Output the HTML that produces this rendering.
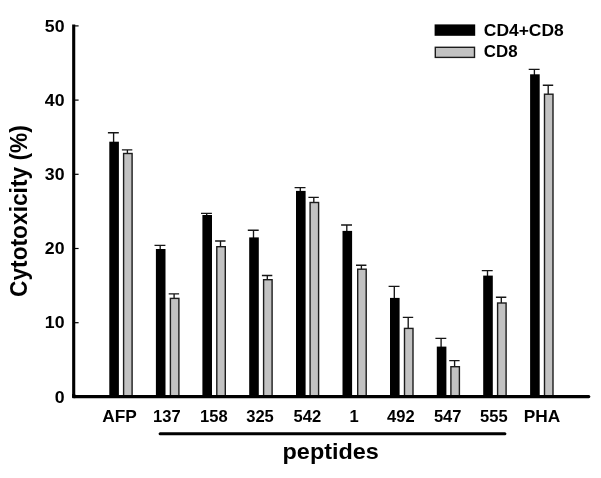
<!DOCTYPE html>
<html><head><meta charset="utf-8"><title>Cytotoxicity chart</title>
<style>
html,body{margin:0;padding:0;background:#fff;}
body{width:601px;height:478px;overflow:hidden;}
svg{display:block;}
text{font-family:"Liberation Sans",Arial,Helvetica,sans-serif;font-weight:bold;fill:#000;}
.t{font-size:16.8px;}
.b{font-size:22.3px;}
.y{font-size:22.75px;}
</style></head><body>
<svg width="601" height="478" viewBox="0 0 601 478">
<rect x="0" y="0" width="601" height="478" fill="#fff"/>

<path d="M107.9 132.7H118.8M113.6 132.7V142.7" stroke="#161616" stroke-width="1.35" fill="none"/>
<path d="M121.9 149.9H132.3M127.4 149.9V153.8" stroke="#161616" stroke-width="1.35" fill="none"/>
<path d="M154.5 245.3H165.4M160.2 245.3V250.0" stroke="#161616" stroke-width="1.35" fill="none"/>
<path d="M168.7 293.9H179.1M174.1 293.9V298.7" stroke="#161616" stroke-width="1.35" fill="none"/>
<path d="M201.0 213.4H211.9M206.7 213.4V216.0" stroke="#161616" stroke-width="1.35" fill="none"/>
<path d="M215.1 241.0H225.5M220.5 241.0V247.0" stroke="#161616" stroke-width="1.35" fill="none"/>
<path d="M247.8 230.2H258.7M253.5 230.2V238.4" stroke="#161616" stroke-width="1.35" fill="none"/>
<path d="M261.9 275.5H272.3M267.3 275.5V280.0" stroke="#161616" stroke-width="1.35" fill="none"/>
<path d="M294.6 187.6H305.5M300.3 187.6V191.9" stroke="#161616" stroke-width="1.35" fill="none"/>
<path d="M308.4 197.3H318.8M313.8 197.3V202.8" stroke="#161616" stroke-width="1.35" fill="none"/>
<path d="M341.1 225.0H352.0M346.8 225.0V231.9" stroke="#161616" stroke-width="1.35" fill="none"/>
<path d="M356.0 265.2H366.4M361.4 265.2V269.5" stroke="#161616" stroke-width="1.35" fill="none"/>
<path d="M388.6 286.4H399.5M394.3 286.4V298.9" stroke="#161616" stroke-width="1.35" fill="none"/>
<path d="M402.8 317.3H413.2M408.2 317.3V328.7" stroke="#161616" stroke-width="1.35" fill="none"/>
<path d="M435.4 338.3H446.3M441.1 338.3V347.6" stroke="#161616" stroke-width="1.35" fill="none"/>
<path d="M449.2 360.6H459.6M454.6 360.6V367.0" stroke="#161616" stroke-width="1.35" fill="none"/>
<path d="M481.8 270.6H492.7M487.5 270.6V276.6" stroke="#161616" stroke-width="1.35" fill="none"/>
<path d="M495.9 297.2H506.3M501.3 297.2V303.3" stroke="#161616" stroke-width="1.35" fill="none"/>
<path d="M528.7 69.3H539.6M534.4 69.3V75.3" stroke="#161616" stroke-width="1.35" fill="none"/>
<path d="M542.8 85.2H553.2M548.2 85.2V94.5" stroke="#161616" stroke-width="1.35" fill="none"/>
<rect x="109.3" y="141.7" width="9.6" height="254.8" fill="#000"/>
<rect x="123.6" y="153.5" width="8.5" height="243.0" fill="#c2c2c2" stroke="#1c1c1c" stroke-width="1.4"/>
<rect x="155.9" y="249.0" width="9.6" height="147.5" fill="#000"/>
<rect x="170.4" y="298.4" width="8.5" height="98.1" fill="#c2c2c2" stroke="#1c1c1c" stroke-width="1.4"/>
<rect x="202.4" y="215.0" width="9.6" height="181.5" fill="#000"/>
<rect x="216.8" y="246.7" width="8.5" height="149.8" fill="#c2c2c2" stroke="#1c1c1c" stroke-width="1.4"/>
<rect x="249.2" y="237.4" width="9.6" height="159.1" fill="#000"/>
<rect x="263.6" y="279.7" width="8.5" height="116.8" fill="#c2c2c2" stroke="#1c1c1c" stroke-width="1.4"/>
<rect x="296.0" y="190.9" width="9.6" height="205.6" fill="#000"/>
<rect x="310.1" y="202.5" width="8.5" height="194.0" fill="#c2c2c2" stroke="#1c1c1c" stroke-width="1.4"/>
<rect x="342.5" y="230.9" width="9.6" height="165.6" fill="#000"/>
<rect x="357.7" y="269.2" width="8.5" height="127.3" fill="#c2c2c2" stroke="#1c1c1c" stroke-width="1.4"/>
<rect x="390.0" y="297.9" width="9.6" height="98.6" fill="#000"/>
<rect x="404.5" y="328.4" width="8.5" height="68.1" fill="#c2c2c2" stroke="#1c1c1c" stroke-width="1.4"/>
<rect x="436.8" y="346.6" width="9.6" height="49.9" fill="#000"/>
<rect x="450.9" y="366.7" width="8.5" height="29.8" fill="#c2c2c2" stroke="#1c1c1c" stroke-width="1.4"/>
<rect x="483.2" y="275.6" width="9.6" height="120.9" fill="#000"/>
<rect x="497.6" y="303.0" width="8.5" height="93.5" fill="#c2c2c2" stroke="#1c1c1c" stroke-width="1.4"/>
<rect x="530.1" y="74.3" width="9.6" height="322.2" fill="#000"/>
<rect x="544.5" y="94.2" width="8.5" height="302.3" fill="#c2c2c2" stroke="#1c1c1c" stroke-width="1.4"/>
<path d="M73.7 24.6V396.6" stroke="#000" stroke-width="3.1" fill="none"/>
<path d="M73.7 396.6H588.8" stroke="#000" stroke-width="3.1" fill="none" stroke-linecap="round"/>
<rect x="72.15" y="394" width="3.1" height="4.15" fill="#000"/>
<path d="M75 25.9H78.6" stroke="#000" stroke-width="1.2"/>
<text class="t" transform="translate(64.5 31.5) scale(1.055 1)" text-anchor="end">50</text>
<path d="M75 100.1H78.6" stroke="#000" stroke-width="1.2"/>
<text class="t" transform="translate(64.5 105.7) scale(1.055 1)" text-anchor="end">40</text>
<path d="M75 174.3H78.6" stroke="#000" stroke-width="1.2"/>
<text class="t" transform="translate(64.5 179.8) scale(1.055 1)" text-anchor="end">30</text>
<path d="M75 248.5H78.6" stroke="#000" stroke-width="1.2"/>
<text class="t" transform="translate(64.5 254.1) scale(1.055 1)" text-anchor="end">20</text>
<path d="M75 322.7H78.6" stroke="#000" stroke-width="1.2"/>
<text class="t" transform="translate(64.5 328.3) scale(1.055 1)" text-anchor="end">10</text>
<text class="t" transform="translate(64.5 402.5) scale(1.055 1)" text-anchor="end">0</text>
<text class="t" transform="translate(119.5 421.8) scale(1.03 1)" text-anchor="middle">AFP</text>
<text class="t" transform="translate(166.9 421.8) scale(0.985 1)" text-anchor="middle">137</text>
<text class="t" transform="translate(213.9 421.8) scale(0.985 1)" text-anchor="middle">158</text>
<text class="t" transform="translate(260.0 421.8) scale(0.985 1)" text-anchor="middle">325</text>
<text class="t" transform="translate(307.3 421.8) scale(0.985 1)" text-anchor="middle">542</text>
<text class="t" transform="translate(354.1 421.8) scale(0.985 1)" text-anchor="middle">1</text>
<text class="t" transform="translate(400.8 421.8) scale(0.985 1)" text-anchor="middle">492</text>
<text class="t" transform="translate(447.7 421.8) scale(0.985 1)" text-anchor="middle">547</text>
<text class="t" transform="translate(493.9 421.8) scale(0.985 1)" text-anchor="middle">555</text>
<text class="t" transform="translate(542.0 421.8) scale(1.03 1)" text-anchor="middle">PHA</text>
<rect x="434.6" y="24.4" width="40.6" height="11.4" fill="#000"/>
<rect x="435.3" y="47.3" width="39.2" height="10.1" fill="#c2c2c2" stroke="#1c1c1c" stroke-width="1.4"/>
<text class="t" transform="translate(483.8 35.7) scale(1.038 1)">CD4+CD8</text>
<text class="t" transform="translate(483.8 57.4) scale(1.005 1)">CD8</text>
<path d="M160.1 433.8H504.9" stroke="#000" stroke-width="3" stroke-linecap="round"/>
<text class="b" transform="translate(330.7 458.9) scale(1.05 1)" text-anchor="middle">peptides</text>
<text class="y" transform="translate(26.6 211.1) scale(1.035 1) rotate(-90)" text-anchor="middle">Cytotoxicity (%)</text>
</svg></body></html>
